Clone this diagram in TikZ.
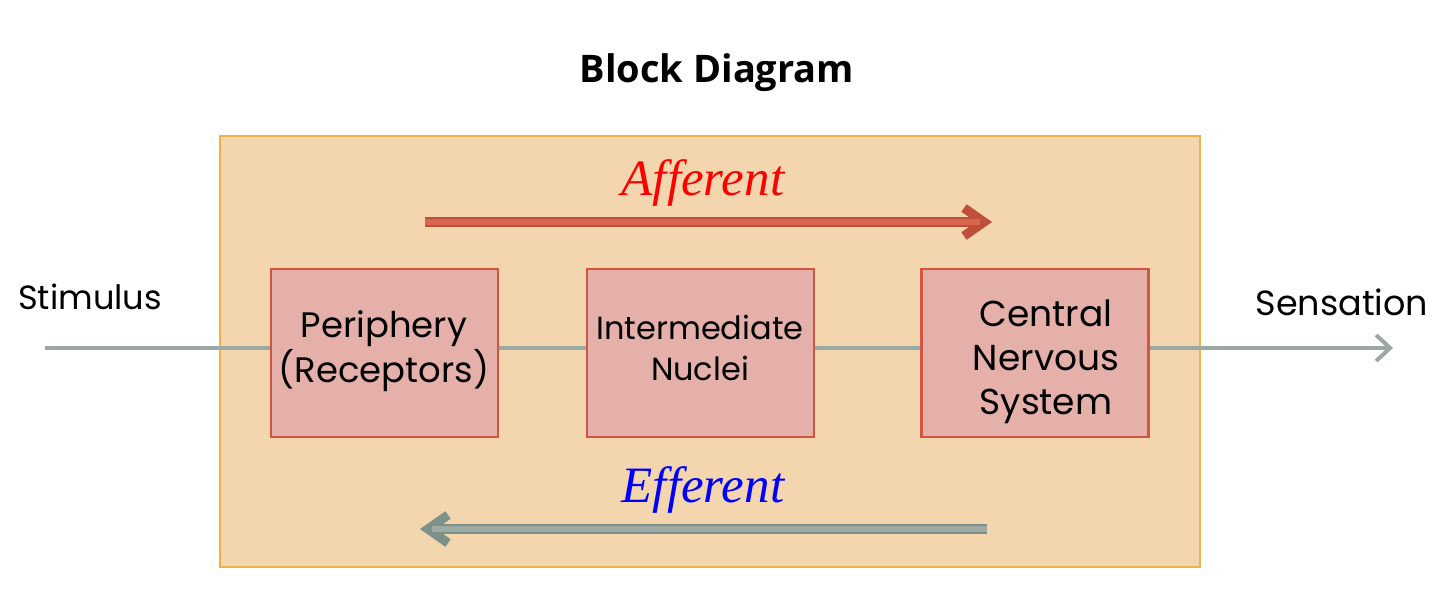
\documentclass[tikz,border=0pt]{standalone}
\usepackage{fontspec}
\setmainfont{Poppins}
\newfontfamily\titlefont{Open Sans}
\newfontfamily\serifit{Liberation Serif}
\usetikzlibrary{arrows.meta,calc}
\definecolor{panelfill}{HTML}{F3D6AE}
\definecolor{paneledge}{HTML}{EFB247}
\definecolor{boxfill}{HTML}{E5B0AA}
\definecolor{boxedge}{HTML}{D2553F}
\definecolor{wire}{HTML}{9AA9A3}
\definecolor{affout}{HTML}{BF4F3B}
\definecolor{affin}{HTML}{D9654D}
\definecolor{effout}{HTML}{7E908A}
\definecolor{effin}{HTML}{9EABA5}
\tikzset{
  blockbox/.style={draw=boxedge, line width=1.2pt, fill=boxfill, minimum width=113.5pt, minimum height=84pt, inner sep=0pt, align=center},
  blocktext/.style={inner sep=0pt, align=center},
  wireline/.style={draw=wire, line width=2pt},
  sidelabel/.style={font=\fontsize{16.8}{20}\selectfont, inner sep=0pt},
  flowlabel/.style={font=\serifit\itshape\fontsize{25.5}{30}\selectfont, inner sep=0pt},
}
\begin{document}
\begin{tikzpicture}[x=0.5pt,y=-0.5pt]
\useasboundingbox (0,0) rectangle (1443,589);
\node[font=\titlefont\bfseries\fontsize{19}{23}\selectfont, inner sep=0pt] (title) at (717,73) {Block Diagram};
\node[draw=paneledge, line width=1pt, fill=panelfill, minimum width=490pt, minimum height=215.5pt, inner sep=0pt] (panel) at (710,351.5) {};
% afferent
\node[flowlabel, text=red] (aff) at (703,183) {Afferent};
\coordinate (a1) at (425,222);
\coordinate (a2) at (992,222);
\draw[affout, line width=4.6pt, -{Straight Barb[length=10pt,width=14pt,line width=4.6pt]}] (a1) -- (a2);
\draw[affin, line width=2.6pt] (a1) -- ($(a2)+(-12,0)$);
% efferent
\node[flowlabel, text=blue] (eff) at (703,490) {Efferent};
\coordinate (e1) at (987,529);
\coordinate (e2) at (420,529);
\draw[effout, line width=4.6pt, -{Straight Barb[length=10pt,width=14pt,line width=4.6pt]}] (e1) -- (e2);
\draw[effin, line width=2.6pt] (e1) -- ($(e2)+(12,0)$);
% blocks
\node[blockbox] (per) at (384.5,353) {};
\node[blocktext, font=\fontsize{17.7}{21}\selectfont] (pertext) at (384,351) {Periphery\\(Receptors)};
\node[blockbox] (mid) at (700.5,353) {};
\node[blocktext, font=\fontsize{16}{20.5}\selectfont] (midtext) at (700,348) {Intermediate\\Nuclei};
\node[blockbox] (cns) at (1035,353) {};
\node[blocktext, font=\fontsize{18}{22}\selectfont] (cnstext) at (1046,362) {Central\\Nervous\\System};
% wires
\coordinate (in) at (45,348);
\coordinate (out) at (1393,348);
\draw[wireline] (in) -- (in -| per.west);
\draw[wireline] (per.east |- in) -- (in -| mid.west);
\draw[wireline] (mid.east |- in) -- (in -| cns.west);
\draw[wireline, -{Straight Barb[length=7pt,width=13pt,line width=2pt]}] (cns.east |- in) -- (out);
\node[sidelabel] (stim) at (90,297) {Stimulus};
\node[sidelabel, font=\fontsize{17.5}{20}\selectfont] (sens) at (1342,302) {Sensation};
\end{tikzpicture}
\end{document}
